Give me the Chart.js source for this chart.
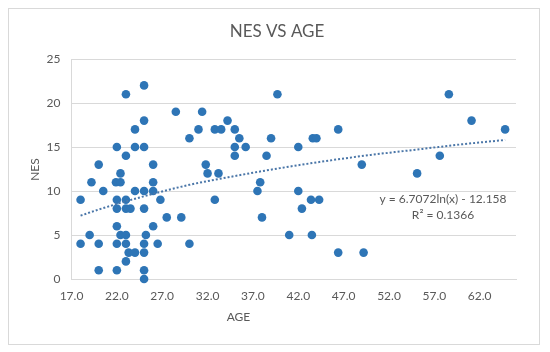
<!DOCTYPE html>
<html lang="en">
<head>
  <meta charset="UTF-8" />
  <title>NES VS AGE</title>
  <script src="https://cdn.jsdelivr.net/npm/chart.js"></script>
  <style>
    body { margin: 0; background: #fff; }
  </style>
</head>
<body>
  <canvas id="nesChart" width="550" height="352"></canvas>

  <script>
  // Scatter values
  const ages = [
    23, 25, 28.5, 31.4, 25, 24, 31, 30, 22, 24, 25, 23, 20, 26, 31.8, 22.4, 32, 19.2, 21.9, 22.4,
    26, 20.5, 24, 25, 26, 18, 22, 23, 26.8, 22, 23, 23.5, 25, 27.5, 29.1, 22, 26, 19, 22.4, 23,
    25.2, 18, 20, 22, 23, 25, 26.5, 30, 23.3, 24, 25, 23, 20, 22, 25, 25,
    32.8, 33.5, 34.2, 35, 35.5, 39, 35, 36.2, 35, 38.5, 42, 43.6, 44, 46.4, 33.2, 37.8, 37.5, 42,
    32.8, 43.4, 44.3, 42.4, 38, 41, 43.5, 46.4, 39.7,
    58.6, 61.1, 64.8, 57.6, 55.1, 49, 49.2
  ];
  const nes = [
    21, 22, 19, 19, 18, 17, 17, 16, 15, 15, 15, 14, 13, 13, 13, 12, 12, 11, 11, 11,
    11, 10, 10, 10, 10, 9, 9, 9, 9, 8, 8, 8, 8, 7, 7, 6, 6, 5, 5, 5,
    5, 4, 4, 4, 4, 4, 4, 4, 3, 3, 3, 2, 1, 1, 1, 0,
    17, 17, 18, 17, 16, 16, 15, 15, 14, 14, 15, 16, 16, 17, 12, 11, 10, 10,
    9, 9, 9, 8, 7, 5, 5, 3, 21,
    21, 18, 17, 14, 12, 13, 3
  ];

  // Dotted log trendline
  const trendAges = [18, 20, 25, 30, 35, 40, 45, 50, 55, 60, 64.8];
  const trendNes = [7.2, 7.9, 9.4, 10.7, 11.7, 12.6, 13.4, 14.1, 14.7, 15.3, 15.8];

  // Axis ticks
  const xTicks = [17, 22, 27, 32, 37, 42, 47, 52, 57, 62];
  const yTicks = [0, 5, 10, 15, 20, 25];

  const textColor = '#595959';
  const fontFamily = 'Lato, "Open Sans", sans-serif';

  // frame, titles and trendline label
  const decorations = {
    id: 'decorations',
    beforeDraw(chart) {
      const c = chart.ctx;
      c.save();
      c.fillStyle = '#fff';
      c.fillRect(0, 0, chart.width, chart.height);
      c.strokeStyle = '#d9d9d9';
      c.lineWidth = 1;
      c.strokeRect(8.5, 8.5, 531, 336);
      c.restore();
    },
    afterDraw(chart) {
      const c = chart.ctx;
      c.save();
      c.fillStyle = textColor;
      c.textAlign = 'center';
      c.textBaseline = 'middle';

      c.font = '17px ' + fontFamily;
      c.fillText('NES VS AGE', 277, 32);

      c.font = '12px ' + fontFamily;
      c.fillText('AGE', 238.5, 317.5);
      c.fillText('y = 6.7072ln(x) - 12.158', 443, 199.5);
      c.fillText('R\u00B2 = 0.1366', 443, 215);

      c.translate(35, 169.5);
      c.rotate(-Math.PI / 2);
      c.fillText('NES', 0, 0);
      c.restore();
    }
  };

  const ctx = document.getElementById('nesChart').getContext('2d');
  new Chart(ctx, {
    type: 'scatter',
    data: {
      datasets: [
        {
          type: 'line',
          data: trendAges.map((x, i) => ({ x: x, y: trendNes[i] })),
          borderColor: '#4a76a8',
          borderWidth: 2,
          borderDash: [2, 2],
          pointRadius: 0,
          fill: false,
          cubicInterpolationMode: 'monotone',
          clip: false,
          order: 0
        },
        {
          data: ages.map((x, i) => ({ x: x, y: nes[i] })),
          backgroundColor: '#2e75b6',
          borderColor: '#2e75b6',
          borderWidth: 0,
          pointRadius: 4.3,
          clip: false,
          order: 1
        }
      ]
    },
    options: {
      responsive: false,
      animation: false,
      events: [],
      layout: { padding: { left: 0, top: 59, right: 34, bottom: 42 } },
      plugins: {
        legend: { display: false },
        tooltip: { enabled: false }
      },
      scales: {
        x: {
          type: 'linear',
          min: 17,
          max: 66,
          afterBuildTicks: s => { s.ticks = xTicks.map(v => ({ value: v })); },
          afterFit: s => { s.height = 31; },
          grid: { display: false, drawTicks: false },
          border: { display: true, color: '#d9d9d9' },
          ticks: {
            padding: 10,
            autoSkip: false,
            maxRotation: 0,
            color: textColor,
            font: { family: fontFamily, size: 12 },
            callback: v => Number(v).toFixed(1)
          }
        },
        y: {
          min: 0,
          max: 25,
          afterBuildTicks: s => { s.ticks = yTicks.map(v => ({ value: v })); },
          afterFit: s => { s.width = 71.5; },
          grid: { color: '#d9d9d9', drawTicks: false },
          border: { display: true, color: '#d9d9d9' },
          ticks: {
            padding: 11,
            color: textColor,
            font: { family: fontFamily, size: 12 }
          }
        }
      }
    },
    plugins: [decorations]
  });
  </script>
</body>
</html>
